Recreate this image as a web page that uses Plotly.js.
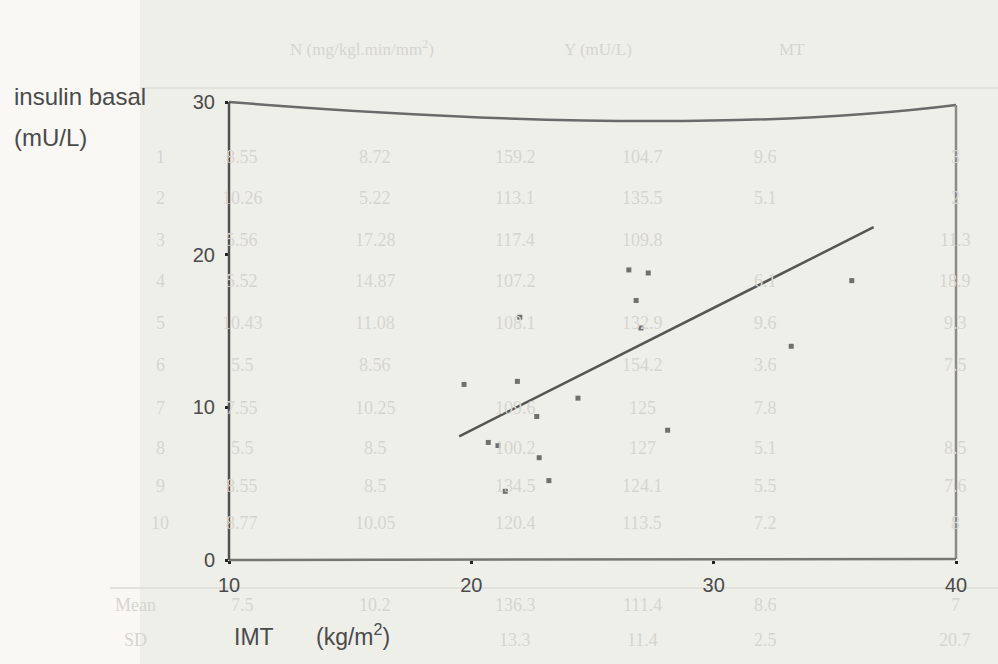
<!DOCTYPE html>
<html>
<head>
<meta charset="utf-8">
<script src="https://cdn.plot.ly/plotly-3.0.1.min.js"></script>
<style>html,body{margin:0;padding:0;background:#f1f1ec;}#chart{width:998px;height:664px;}</style>
</head>
<body>
<div id="chart"></div>
<script>
// ---- data ----
const imt = [19.7, 21.9, 22.0, 24.4, 22.7, 20.7, 21.1, 22.8, 23.2, 21.4, 28.1, 26.5, 27.3, 26.8, 27.0, 35.7, 33.2];
const insulin = [11.5, 11.7, 15.9, 10.6, 9.4, 7.7, 7.5, 6.7, 5.2, 4.5, 8.5, 19.0, 18.8, 17.0, 15.2, 18.3, 14.0];
const fitX = [19.5, 36.6];
const fitY = [8.1, 21.8];
const xTicks = [10, 20, 30, 40];
const yTicks = [0, 10, 20, 30];
const yTitleLines = ["insulin basal", "(mU/L)"];
const xTitleParts = ["IMT", "(kg/m<sup>2</sup>)"];

// faint background table (scanned page behind the chart)
const tableHeader = ["N (mg/kgl.min/mm<sup>2</sup>)", "Y (mU/L)", "MT"];
const rowNo = ["1", "2", "3", "4", "5", "6", "7", "8", "9", "10"];
const col1 = ["8.55", "10.26", "5.56", "5.52", "10.43", "5.5", "7.55", "5.5", "8.55", "8.77"];
const col2 = ["8.72", "5.22", "17.28", "14.87", "11.08", "8.56", "10.25", "8.5", "8.5", "10.05"];
const col3 = ["159.2", "113.1", "117.4", "107.2", "108.1", "", "109.6", "100.2", "134.5", "120.4"];
const col4 = ["104.7", "135.5", "109.8", "", "132.9", "154.2", "125", "127", "124.1", "113.5"];
const col5 = ["9.6", "5.1", "", "6.1", "9.6", "3.6", "7.8", "5.1", "5.5", "7.2"];
const col6 = ["3", "2", "11.3", "18.9", "9.3", "7.5", "", "8.5", "7.6", "8"];
const meanRow = ["Mean", "7.5", "10.2", "136.3", "111.4", "8.6", "7"];
const sdRow = ["SD", "", "", "13.3", "11.4", "2.5", "20.7"];

// ---- layout geometry ----
const W = 998, H = 664;
const M = {l: 229, r: 42, t: 102, b: 104};
const pw = W - M.l - M.r, ph = H - M.t - M.b;
const px = x => (x - M.l) / pw;
const py = y => (H - M.b - y) / ph;

const ink = '#4a4a4a';
const faint = '#d5d5cf';
const annotations = [];

// background table text
const colX = [160, 242, 375, 515, 642, 765, 955];
const rowY = [157, 198, 240, 281, 323, 365, 408, 448, 486, 523];
const cols = [rowNo, col1, col2, col3, col4, col5, col6];
function faintText(t, x, y, size) {
  annotations.push({text: t, xref: 'paper', yref: 'paper', x: px(x), y: py(y),
    xanchor: 'center', yanchor: 'middle', showarrow: false,
    font: {family: 'Liberation Serif', size: size || 18, color: faint}});
}
cols.forEach((c, ci) => c.forEach((t, ri) => { if (t) faintText(t, colX[ci], rowY[ri]); }));
meanRow.forEach((t, ci) => { if (t) faintText(t, ci === 0 ? 135 : colX[ci], 605); });
sdRow.forEach((t, ci) => { if (t) faintText(t, ci === 0 ? 135 : colX[ci], 640); });
faintText(tableHeader[0], 362, 48, 17);
faintText(tableHeader[1], 598, 50, 17);
faintText(tableHeader[2], 792, 50, 17);

// axis titles
annotations.push({text: yTitleLines[0], xref: 'paper', yref: 'paper', x: px(12), y: py(96),
  xanchor: 'left', yanchor: 'middle', showarrow: false,
  font: {family: 'Liberation Sans', size: 24, color: ink}});
annotations.push({text: yTitleLines[1], xref: 'paper', yref: 'paper', x: px(12), y: py(137),
  xanchor: 'left', yanchor: 'middle', showarrow: false,
  font: {family: 'Liberation Sans', size: 24, color: ink}});
annotations.push({text: xTitleParts[0], xref: 'paper', yref: 'paper', x: px(232), y: py(637),
  xanchor: 'left', yanchor: 'middle', showarrow: false,
  font: {family: 'Liberation Sans', size: 23, color: ink}});
annotations.push({text: xTitleParts[1], xref: 'paper', yref: 'paper', x: px(314), y: py(635),
  xanchor: 'left', yanchor: 'middle', showarrow: false,
  font: {family: 'Liberation Sans', size: 23, color: ink}});

const shapes = [
  // light page strip on the left
  {type: 'rect', xref: 'paper', yref: 'paper', x0: px(0), x1: px(140), y0: py(664), y1: py(0),
   fillcolor: '#f9f8f4', line: {width: 0}, layer: 'below'},
  // faint table rules
  {type: 'line', xref: 'paper', yref: 'paper', x0: px(140), x1: px(998), y0: py(88), y1: py(88),
   line: {color: '#e2e2dc', width: 2}, layer: 'below'},
  {type: 'line', xref: 'paper', yref: 'paper', x0: px(110), x1: px(998), y0: py(588), y1: py(588),
   line: {color: '#e2e2dc', width: 2}, layer: 'below'},
  // chart frame
  {type: 'path', xref: 'paper', yref: 'paper',
   path: `M 0 1 Q 0.63 0.92 1 ${py(105)}`, line: {color: '#6a6a6a', width: 2.5}},
  {type: 'line', xref: 'paper', yref: 'paper', x0: 1, x1: 1, y0: py(559), y1: py(105),
   line: {color: '#8a8a86', width: 2.5}},
  {type: 'line', xref: 'paper', yref: 'paper', x0: 0, x1: 1, y0: 0, y1: py(559),
   line: {color: '#777772', width: 2.5}},
  {type: 'line', xref: 'paper', yref: 'paper', x0: 0, x1: 0, y0: 0, y1: 1,
   line: {color: '#505050', width: 2.5}}
];

const traces = [
  {x: imt, y: insulin, type: 'scatter', mode: 'markers',
   marker: {color: '#6f6f6c', size: 5, symbol: 'square'}, hoverinfo: 'skip'},
  {x: fitX, y: fitY, type: 'scatter', mode: 'lines',
   line: {color: '#555553', width: 2.5}, hoverinfo: 'skip'}
];

const layout = {
  width: W, height: H,
  margin: M,
  paper_bgcolor: '#efefea',
  plot_bgcolor: 'rgba(0,0,0,0)',
  showlegend: false,
  font: {family: 'Liberation Sans', color: ink},
  xaxis: {range: [10, 40], tickvals: xTicks, ticktext: xTicks.map(String),
    showgrid: false, zeroline: false, showline: false,
    ticks: 'outside', ticklen: 3, tickwidth: 3, tickcolor: '#222',
    ticklabelstandoff: 4,
    tickfont: {family: 'Liberation Sans', size: 20, color: ink}},
  yaxis: {range: [0, 30], tickvals: yTicks, ticktext: yTicks.map(String),
    showgrid: false, zeroline: false, showline: false,
    ticks: 'outside', ticklen: 3, tickwidth: 3, tickcolor: '#222',
    ticklabelstandoff: 6,
    tickfont: {family: 'Liberation Sans', size: 20, color: ink}},
  annotations: annotations,
  shapes: shapes
};

Plotly.newPlot('chart', traces, layout, {staticPlot: true, displayModeBar: false});
</script>
</body>
</html>
